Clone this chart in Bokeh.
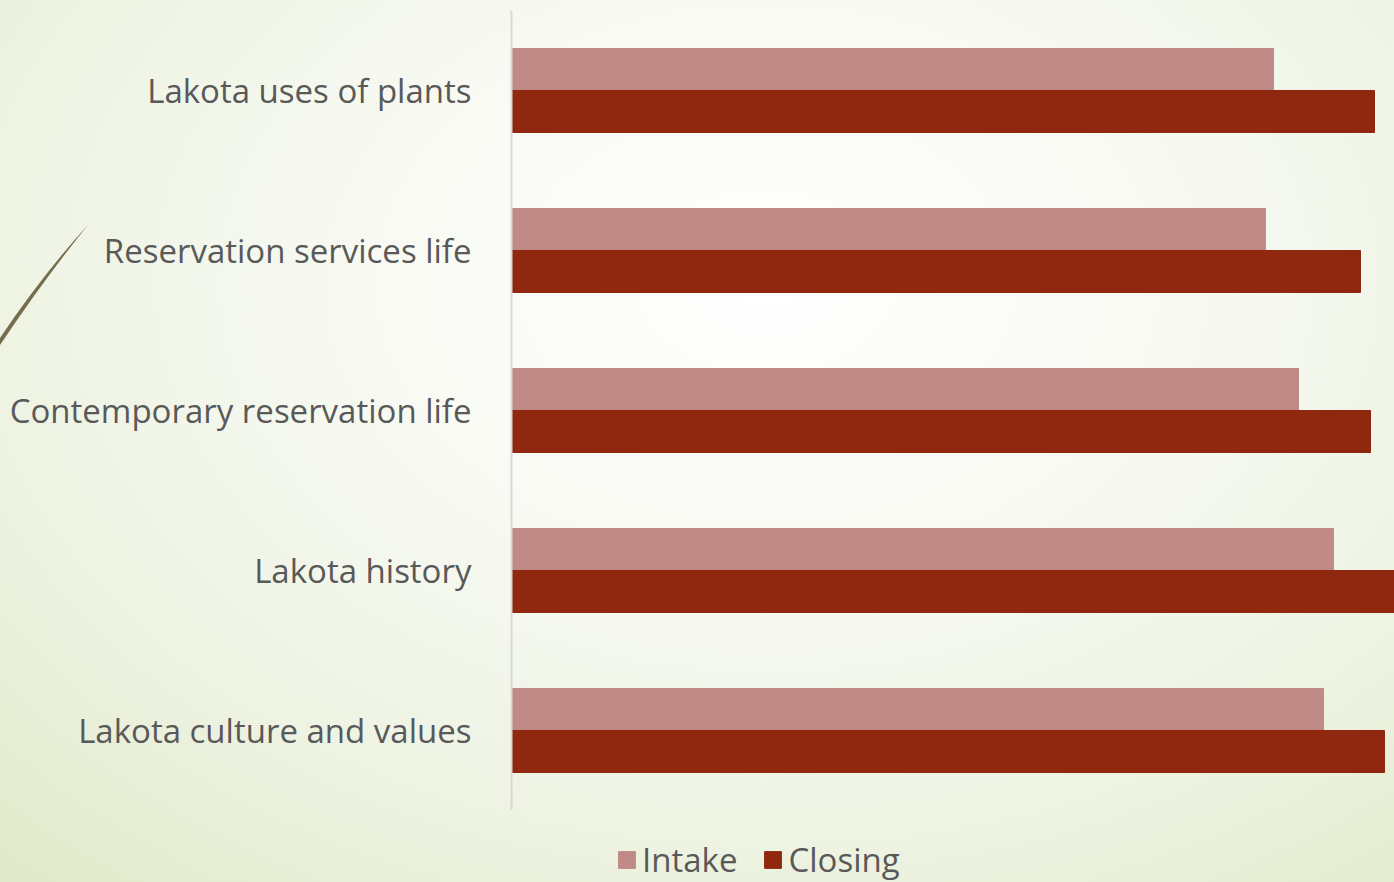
from bokeh.plotting import figure
from bokeh.layouts import column
from bokeh.models import ColumnDataSource, FactorRange, Range1d, Legend, LegendItem
from bokeh.transform import dodge
from bokeh.embed import file_html
from bokeh.resources import INLINE

# ---- data ----
categories = ["Lakota uses of plants", "Reservation services life",
              "Contemporary reservation life", "Lakota history",
              "Lakota culture and values"]
intake = [3.81, 3.77, 3.935, 4.11, 4.06]
closing = [4.315, 4.245, 4.295, 4.45, 4.365]
series_names = ["Intake", "Closing"]

INTAKE_COLOR = "#c08b86"
CLOSING_COLOR = "#902810"
TEXT_COLOR = "#595959"
FONT = "Open Sans"

factors = list(reversed(categories))  # first factor at bottom
src = ColumnDataSource(dict(cat=categories, intake=intake, closing=closing))

p = figure(width=1394, height=810, output_backend="svg", toolbar_location=None,
           y_range=FactorRange(factors=factors), x_range=Range1d(0, 4.415),
           min_border_left=511, min_border_right=0, min_border_top=10,
           min_border_bottom=0)

p.background_fill_alpha = 0
p.border_fill_alpha = 0
p.outline_line_color = None
p.xgrid.visible = False
p.ygrid.visible = False
p.xaxis.visible = False

bar_h = 0.2625
p.hbar(y=dodge("cat", bar_h / 2, range=p.y_range), right="intake", left=0,
       height=bar_h, source=src, fill_color=INTAKE_COLOR, line_color=INTAKE_COLOR)
p.hbar(y=dodge("cat", -bar_h / 2, range=p.y_range), right="closing", left=0,
       height=bar_h, source=src, fill_color=CLOSING_COLOR, line_color=CLOSING_COLOR)

ax = p.yaxis[0]
ax.axis_line_color = "#d9d9d9"
ax.axis_line_width = 2
ax.major_tick_line_color = None
ax.minor_tick_line_color = None
ax.major_label_standoff = 34
ax.major_label_text_font = FONT
ax.major_label_text_font_size = "33px"
ax.major_label_text_color = TEXT_COLOR

# ---- legend strip below the chart (its frame is aligned with the chart's frame) ----
lg = figure(width=1394, height=72, output_backend="svg", toolbar_location=None,
            x_range=Range1d(-10, -9), y_range=Range1d(-10, -9),
            min_border_left=511, min_border_right=0, min_border_top=0, min_border_bottom=0)
lg.background_fill_alpha = 0
lg.border_fill_alpha = 0
lg.outline_line_color = None
lg.axis.visible = False
lg.grid.visible = False
# same series, outside this strip's visible range: only their legend swatches show
e1 = lg.hbar(y="intake", right="intake", left=0, height=0.1, source=src,
             fill_color=INTAKE_COLOR, line_color=INTAKE_COLOR)
e2 = lg.hbar(y="closing", right="closing", left=0, height=0.1, source=src,
             fill_color=CLOSING_COLOR, line_color=CLOSING_COLOR)

legend = Legend(items=[LegendItem(label=series_names[0], renderers=[e1]),
                       LegendItem(label=series_names[1], renderers=[e2])],
                location=(105, 0), orientation="horizontal",
                glyph_width=21, glyph_height=21, label_standoff=5, spacing=25,
                padding=0, margin=0, background_fill_alpha=0, border_line_color=None,
                label_text_font=FONT, label_text_font_size="33px",
                label_text_color=TEXT_COLOR)
lg.add_layout(legend, "center")

layout = column(p, lg, spacing=0)

html = file_html(layout, INLINE, title="Lakota course survey")
deco = ("url(\"data:image/svg+xml;utf8,<svg xmlns='http://www.w3.org/2000/svg' width='100' height='360'>"
        "<path d='M88 225 Q45 278 0 345 L0 338 Q43 274 88 225 Z' fill='%23756d4b'/></svg>\") "
        "0 0 / 100px 360px no-repeat")
css = ("<style>html{min-height:100%;background:" + deco + ",radial-gradient(ellipse 80% 90% at 55% 32%,"
       "#ffffff 0%,#f8faf3 35%,#eef3e3 70%,#e2eacb 100%);}"
       "body{background:transparent;}</style>")
html = html.replace("<head>", "<head>" + css, 1)
open("out.html", "w").write(html)
